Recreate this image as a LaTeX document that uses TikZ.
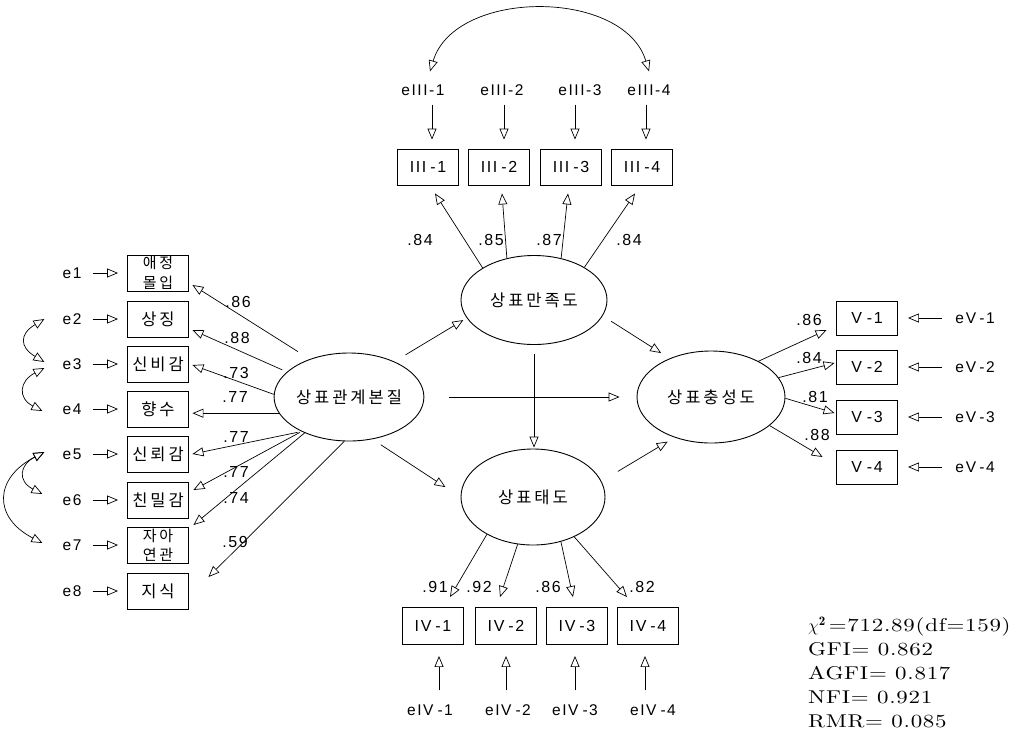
\documentclass[tikz,border=0pt]{standalone}
\usepackage{fontspec}
\newfontfamily\kr[LetterSpace=18]{Noto Sans CJK KR}
\newfontfamily\lsans[LetterSpace=10]{Liberation Sans}
\newfontfamily\statfont[FakeStretch=1.24,LetterSpace=4]{lmroman10-regular.otf}
\usetikzlibrary{arrows.meta,shapes.geometric,calc}
\begin{document}
\begin{tikzpicture}[x=1pt,y=1pt,
  ind/.style={draw,line width=0.9pt,minimum width=61pt,minimum height=36pt,inner sep=0pt,align=center,font=\kr\fontsize{16.5}{19}\selectfont},
  indt/.style={ind,font=\kr\fontsize{15}{19.5}\selectfont},
  indl/.style={ind,font=\lsans\fontsize{16}{19}\selectfont},
  lat/.style={ellipse,draw,line width=0.9pt,inner sep=0pt,font=\kr\fontsize{16.5}{19}\selectfont},
  err/.style={inner sep=1pt,font=\lsans\fontsize{15.5}{18}\selectfont},
  coef/.style={inner sep=0pt,font=\lsans\fontsize{16}{18}\selectfont},
  arr/.style={line width=0.7pt,-{Triangle[open,length=11pt,width=9pt]}},
  darr/.style={line width=0.7pt,{Triangle[open,length=11pt,width=9pt]}-{Triangle[open,length=11pt,width=9pt]}},
]
\useasboundingbox (0,0) rectangle (1009,-737);

% latent variables
\node[lat,minimum width=148pt,minimum height=88pt] (F1) at (349,-397) {상표관계본질};
\node[lat,minimum width=146pt,minimum height=89pt] (F2) at (534,-300) {상표만족도};
\node[lat,minimum width=148pt,minimum height=92pt] (F4) at (711,-397) {상표충성도};
\node[lat,minimum width=144pt,minimum height=96pt] (F3) at (533,-497) {상표태도};

% left indicators
\node[indt] (b1) at (158,-273) {애정\\몰입};
\node[ind] (b2) at (158,-319) {상징};
\node[ind] (b3) at (158,-364) {신비감};
\node[ind] (b4) at (158,-409) {향수};
\node[ind] (b5) at (158,-454) {신뢰감};
\node[ind] (b6) at (158,-500) {친밀감};
\node[indt] (b7) at (158,-545) {자아\\연관};
\node[ind] (b8) at (158,-591) {지식};

\foreach \i/\y in {1/273,2/319,3/364,4/409,5/454,6/500,7/545,8/591}{
  \node[err] (e\i) at (72,-\y) {e\i};
  \draw[arr,shorten <=10pt,shorten >=9pt] (e\i) -- (b\i);
}

% correlated errors (left)
\draw[darr] ($(e2.west)+(-17,0)$) .. controls +(-25,-15) and +(-25,15) .. ($(e3.west)+(-17,2)$);
\draw[darr] ($(e3.west)+(-17,-4)$) .. controls +(-25,-13) and +(-25,13) .. ($(e4.west)+(-19,-2)$);
\draw[darr] ($(e5.west)+(-17,2)$) .. controls +(-25,-13) and +(-25,13) .. ($(e6.west)+(-19,6)$);
\draw[darr] ($(e5.west)+(-17,2)$) .. controls +(-50,-26) and +(-50,26) .. ($(e7.west)+(-19,2)$);

% left loadings
\draw[arr,shorten <=14pt] (F1.136) -- ($(b1.east)+(3.5,-12)$);
\draw[arr,shorten <=5pt] (F1.158) -- ($(b2.east)+(3.5,-11)$);
\draw[arr] (F1.178) -- ($(b3.east)+(3.5,-1)$);
\draw[arr] (F1.193) -- ($(b4.east |- F1.193)+(3.5,0)$);
\draw[arr,shorten <=4pt] (F1.216) -- ($(b5.east)+(3.5,0)$);
\draw[arr,shorten <=2pt] (F1.216) -- ($(b6.east)+(4.5,10)$);
\draw[arr] (F1.219) -- ($(b7.east)+(4.5,20)$);
\draw[arr] (F1.264) -- ($(b8.east)+(19.5,14)$);

\node[coef] (l1) at (238,-302) {.86};
\node[coef] (l2) at (237,-338) {.88};
\node[coef] (l3) at (236,-373) {.73};
\node[coef] (l4) at (235,-397) {.77};
\node[coef] (l5) at (236,-437) {.77};
\node[coef] (l6) at (236,-472) {.77};
\node[coef] (l7) at (236,-498) {.74};
\node[coef] (l8) at (235,-542) {.59};

% top indicators
\node[indl] (B31) at (428,-167) {III\kern4pt-1};
\node[indl] (B32) at (499,-167) {III\kern4pt-2};
\node[indl] (B33) at (571,-167) {III\kern4pt-3};
\node[indl] (B34) at (642,-167) {III\kern4pt-4};
\node[err] (E31) at (423,-90) {eIII-1};
\node[err] (E32) at (502,-90) {eIII-2};
\node[err] (E33) at (580,-90) {eIII-3};
\node[err] (E34) at (649,-90) {eIII-4};
\foreach \i/\dx in {1/4,2/5,3/4,4/4}{
  \draw[arr] ($(B3\i.north |- E3\i.south)+(\dx,-8)$) -- ($(B3\i.north)+(\dx,9)$);
}
\draw[darr] ($(E31.north)+(7,12)$) .. controls +(25,83) and +(-25,83) .. ($(E34.north)+(0,12)$);

\draw[arr] (F2.148) -- ($(B31.south)+(7,-8)$);
\draw[arr] (F2.123) -- ($(B32.south)+(3,-8)$);
\draw[arr] (F2.57) -- ($(B33.south)+(-3,-8)$);
\draw[arr] (F2.33) -- ($(B34.south)+(-7,-8)$);
\node[coef] (t1) at (420,-240) {.84};
\node[coef] (t2) at (491,-240) {.85};
\node[coef] (t3) at (549,-240) {.87};
\node[coef] (t4) at (629,-240) {.84};

% right indicators
\foreach \i/\y in {1/318,2/367,3/417,4/467}{
  \node[indl,minimum height=34pt] (V\i) at (867,-\y) {V\kern5pt-\i};
  \node[err] (EV\i) at (975,-\y) {e\kern2pt V\kern3pt-\i};
  \draw[arr,shorten <=12pt,shorten >=10pt] (EV\i) -- (V\i);
}
\draw[arr] (F4.37) -- ($(V1.west)+(-9.5,-12)$);
\draw[arr] (F4.16) -- ($(V2.west)+(-1.5,4)$);
\draw[arr] (F4.-1) -- ($(V3.west)+(-1.5,4)$);
\draw[arr] (F4.-26) -- ($(V4.west)+(-13.5,10)$);
\node[coef] (r1) at (809,-320) {.86};
\node[coef] (r2) at (809,-358) {.84};
\node[coef] (r3) at (815,-397) {.81};
\node[coef] (r4) at (817,-435) {.88};

% bottom indicators
\foreach \i/\x/\lx/\dx in {1/433/430/6,2/506/508/0,3/577/575/-2,4/648/653/-3}{
  \node[indl,minimum height=37pt] (D\i) at (\x,-626) {IV\kern4pt-\i};
  \node[err] (L\i) at (\lx,-710) {eIV\kern4pt-\i};
  \draw[arr] ($(D\i.south |- L\i.north)+(\dx,13)$) -- ($(D\i.south)+(\dx,-11)$);
}
\draw[arr] (F3.219) -- ($(D1.north)+(17,10)$);
\draw[arr] (F3.252) -- ($(D2.north)+(-6,10)$);
\draw[arr] (F3.302) -- ($(D3.north)+(-4,10)$);
\draw[arr] (F3.316) -- ($(D4.north)+(-21,10)$);
\node[coef] (d1) at (435,-587) {.91};
\node[coef] (d2) at (479,-587) {.92};
\node[coef] (d3) at (548,-587) {.86};
\node[coef] (d4) at (642,-587) {.82};

% structural paths
\draw[arr,shorten <=13pt,shorten >=4pt] (F1.38) -- (F2.195);
\draw[arr,shorten <=10pt,shorten >=10pt] (F2.-13) -- (F4.137);
\draw[arr,shorten <=9pt,shorten >=1pt] (F2.south) -- (F2.south |- F3.north);
\draw[arr,shorten <=25pt,shorten >=17pt] (F1.east) -- (F4.west);
\draw[arr,shorten <=10pt,shorten >=18pt] (F1.-61) -- (F3.180);
\draw[arr,shorten <=19pt,shorten >=8pt] (F3.13) -- (F4.228);

% fit statistics
\node[anchor=north west,inner sep=0pt,align=left,font=\statfont\fontsize{18.5}{24}\selectfont] (fit) at (808,-617)
  {$\chi^{\mathbf{2}}$\,=712.89(df=159)\\GFI= 0.862\\AGFI= 0.817\\NFI= 0.921\\RMR= 0.085};
\end{tikzpicture}
\end{document}
